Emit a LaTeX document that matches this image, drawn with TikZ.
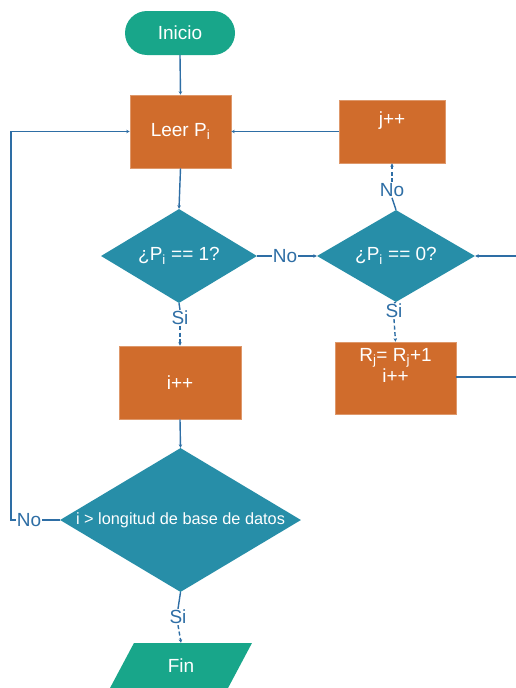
\documentclass[tikz,border=0pt]{standalone}
\usepackage{fontspec}
\setmainfont{Liberation Sans}
\usetikzlibrary{shapes.geometric,arrows.meta}
\definecolor{cteal}{RGB}{24,166,138}
\definecolor{corange}{RGB}{208,108,44}
\definecolor{cdia}{RGB}{39,142,168}
\definecolor{cline}{RGB}{46,110,165}
\begin{document}
\begin{tikzpicture}[x=1pt,y=-1pt,
  big/.style={font=\fontsize{19}{23}\selectfont},
  term/.style={big, rectangle, rounded corners=22pt, fill=cteal, text=white, minimum width=110pt, minimum height=44pt},
  proc/.style={big, rectangle, fill=corange, draw=corange!70!white, line width=0.6pt, text=white, inner sep=0pt},
  dec/.style={big, diamond, fill=cdia, text=white, inner sep=0pt},
  io/.style={big, trapezium, trapezium left angle=64, trapezium right angle=116, trapezium stretches=true, fill=cteal, text=white, inner sep=0pt},
  wtext/.style={big, text=white, align=center, inner sep=0pt},
  lbl/.style={big, text=cline, inner sep=1pt},
  conn/.style={draw=cline, line width=1.4pt},
  arr/.style={conn, -{Stealth[length=3.5pt,width=3.5pt]}},
  darr/.style={arr, dash pattern=on 4pt off 2.5pt}]
\useasboundingbox (0,0) rectangle (516,688);
\fill[white] (0,0) rectangle (516,688);

% nodes
\node[term] (inicio) at (180,33) {Inicio};
\node[proc, minimum width=101pt, minimum height=73pt] (leer) at (180.5,131.5) {Leer P\textsubscript{i}};
\node[proc, minimum width=106pt, minimum height=63pt] (jpp) at (392,131.5) {};
\node[wtext] (jppt) at (392,121) {j++};
\node[dec, aspect=1.66, minimum width=156pt, minimum height=94pt] (d1) at (179,256) {¿P\textsubscript{i} == 1?};
\node[dec, aspect=1.72, minimum width=158pt, minimum height=92pt] (d2) at (396,256) {¿P\textsubscript{i} == 0?};
\node[proc, minimum width=122pt, minimum height=73pt] (ipp) at (180,382.5) {i++};
\node[proc, minimum width=121pt, minimum height=72pt] (rr) at (395.5,378) {};
\node[wtext] (rrt) at (395.5,365) {R\textsubscript{j}= R\textsubscript{j}+1\\[-2pt]i++};
\node[dec, aspect=1.67, font=\fontsize{16.3}{20}\selectfont, minimum width=241pt, minimum height=144pt] (d3) at (180.5,520) {i > longitud de base de datos};
\node[io, minimum width=142pt, minimum height=45pt] (fin) at (181,665.5) {Fin};

% labels
\node[lbl] (no1) at (285,256) {No};
\node[lbl] (no2) at (392,190) {No};
\node[lbl] (si1) at (180,318) {Si};
\node[lbl] (si2) at (394,311) {Si};
\node[lbl] (no3) at (29,520) {No};
\node[lbl] (si3) at (178,617) {Si};

% free ends
\coordinate (rin) at (516,256);
\coordinate (rout) at (516,377);
\coordinate (lft) at (11,131.5);

% connectors
\draw[arr] (inicio.south) -- (leer.north);
\draw[arr] (leer.south) -- (d1.north);
\draw[conn] (d1.east) -- (no1.west);
\draw[arr] (no1.east) -- (d2.west);
\draw[conn] (d2.north) -- (no2.south);
\draw[darr] (no2.north) -- (jpp.south);
\draw[arr] (jpp.west) -- (leer.east);
\draw[conn] (d1.south) -- (si1.north);
\draw[darr] (si1.south) -- (ipp.north);
\draw[conn] (d2.south) -- (si2.north);
\draw[darr] (si2.south) -- (rr.north);
\draw[conn] (rr.east |- rout) -- (rout);
\draw[arr] (rin) -- (d2.east);
\draw[arr] (ipp.south) -- (d3.north);
\draw[conn] (d3.west) -- (no3.east);
\draw[arr] (no3.west) -| (lft) -- (leer.west);
\draw[conn] (d3.south) -- (si3.north);
\draw[darr] (si3.south) -- (fin.north);
\end{tikzpicture}
\end{document}
